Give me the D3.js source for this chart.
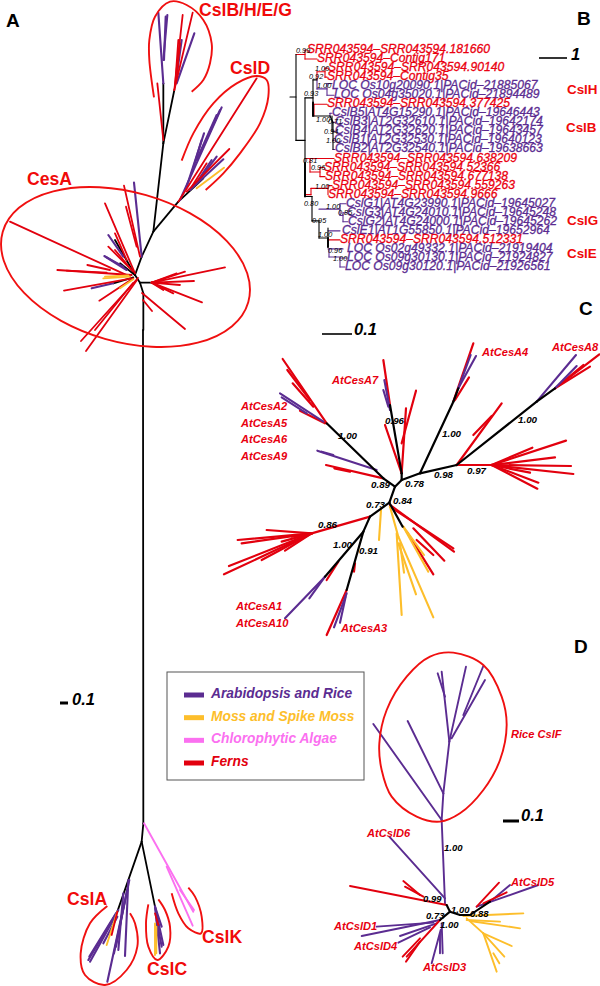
<!DOCTYPE html>
<html><head><meta charset="utf-8">
<script src="https://d3js.org/d3.v7.min.js"></script>
<style>html,body{margin:0;padding:0;background:#fff}svg{display:block}text{font-family:"Liberation Sans",Arial,sans-serif}</style>
</head><body><div id="chart"></div>
<script>
// ---------- colours by taxon ----------
const taxa = ["Arabidopsis and Rice","Moss and Spike Moss","Chlorophytic Algae","Ferns"];
const taxonColours = ["#5b2c91","#fdbe2b","#fb70f0","#e2000e"];
const BLACK = "#000";

// ---------- Panel A, upper part: [x0,y0,x1,y1] in tree units ----------
const aUpperBlack = [[405,825,425,770],[425,770,460,695],[460,695,490,430],[460,695,535,605],[490,430,523,270],[490,430,490,250],[405,825,420,848],[420,848,455,848],[420,848,430,880],[430,880,430,990],[405,825,345,720],[405,825,360,790],[400,832,340,850],[535,605,610,535]];
const aUpperPlants = [[475,38,490,250],[502,45,490,180],[497,50,492,180],[583,100,530,250],[545,120,527,250],[665,322,540,600],[660,330,600,460],[650,345,590,480],[612,400,560,560],[605,420,575,520],[670,478,570,570],[650,470,590,550],[635,480,585,555],[402,548,425,770],[325,705,370,770],[313,768,380,810],[320,772,370,800],[275,865,340,850]];
const aUpperFerns = [[548,45,523,270],[578,38,523,270],[535,120,525,260],[540,130,530,230],[472,250,490,420],[770,235,535,605],[688,447,560,575],[620,490,575,560],[372,557,420,770],[378,620,410,740],[315,610,405,820],[345,700,380,780],[325,740,400,815],[345,750,395,810],[30,665,390,830],[172,810,395,825],[262,795,330,810],[200,812,320,818],[192,872,395,835],[298,902,400,835],[243,1023,414,834],[258,1053,411,840],[285,990,399,849],[455,848,675,802],[455,848,582,843],[455,848,606,907],[455,848,540,855],[455,848,555,815],[455,848,530,820],[455,848,490,870],[455,848,520,880],[455,848,490,840],[426,879,555,987],[429,900,456,933]];
const aUpperMoss = [[672,503,590,565],[310,835,390,830],[360,865,400,838],[315,830,385,826]];
// ---------- Panel A, lower part ----------
const aLowerBlack = [[309,-990,310,490],[310,490,305,545],[305,545,232,755],[305,545,345,740]];
const aLowerPlants = [[145,900,232,755],[150,905,225,770],[148,890,228,760],[180,845,235,750],[190,850,232,770],[202,965,268,660],[222,880,262,690],[255,888,265,660],[235,870,250,700],[228,860,255,720],[345,740,370,855],[345,740,365,800],[345,740,360,880],[350,780,365,860]];
const aLowerMoss = [[200,855,232,755],[345,790,345,885],[349,800,349,880]];
const aLowerFerns = [[215,825,232,755],[345,760,355,795]];
const aLowerAlgae = [[312,490,460,755],[380,620,458,797],[420,690,462,750]];

// ---------- Panel C ----------
const cBlack = [[605,510,660,490],[660,490,770,465],[770,465,1010,275],[1010,275,1065,235],[660,490,760,275],[760,275,775,235],[605,510,605,490],[605,490,570,285],[585,530,605,510],[585,530,550,505],[550,505,380,340],[585,530,568,578],[568,578,510,620],[510,620,490,665],[490,665,375,800],[490,665,440,840],[568,578,608,650]];
const cFerns = [[770,465,875,465],[875,465,1098,392],[875,465,997,413],[875,465,1065,442],[875,465,1113,468],[875,465,1120,492],[875,465,990,488],[875,465,1015,518],[875,465,1012,536],[770,465,905,280],[820,375,875,318],[1065,235,1198,133],[1065,235,1170,170],[1090,215,1150,165],[760,275,820,100],[765,270,807,202],[550,150,570,285],[605,490,555,345],[605,490,618,295],[605,400,648,242],[248,147,380,340],[262,180,330,270],[278,220,340,290],[300,302,375,340],[378,465,550,505],[403,475,450,485],[510,620,335,670],[335,670,200,660],[335,670,113,690],[335,670,125,700],[335,670,275,680],[335,670,245,695],[335,670,255,722],[335,670,185,750],[335,670,87,768],[335,670,72,793],[415,755,380,810],[465,760,462,785],[440,840,380,975],[570,590,760,715],[570,585,762,725],[640,655,733,752],[620,665,700,793],[650,690,700,735]];
const cPlants = [[1010,275,1128,135],[1065,235,1130,168],[775,235,828,138],[775,235,812,135],[553,210,570,300],[550,240,565,290],[240,250,370,335],[245,262,320,310],[352,422,530,480],[365,425,400,435],[375,800,255,925],[375,800,328,865],[440,850,402,952],[437,860,420,938]];
const cMoss = [[543,600,537,690],[570,590,595,680],[590,670,605,915],[595,680,700,922],[595,700,648,853],[600,700,612,788],[610,650,672,735],[610,650,685,785]];

// ---------- Panel D ----------
const dPlants = [[375,790,365,540],[365,540,370,460],[370,460,388,305],[365,540,160,252],[370,460,263,243],[388,305,365,95],[375,170,353,100],[388,305,438,80],[395,295,495,120],[430,225,490,78],[375,775,208,590],[510,785,570,735],[470,800,655,735],[360,840,125,888],[340,848,170,860],[350,850,240,888],[330,862,235,908],[365,850,368,940],[362,870,335,970],[360,880,360,940]];
const dFerns = [[380,795,90,738],[300,765,250,723],[310,770,255,740],[470,800,537,728],[490,790,560,757],[360,840,260,950],[300,895,248,950],[300,905,258,965]];
const dBlack = [[380,795,390,815],[390,815,420,825],[420,825,450,825],[450,825,510,785],[390,815,360,840]];
const dMoss = [[430,828,610,820],[440,840,540,845],[450,843,600,865],[440,835,490,880],[490,880,575,918],[490,880,553,950],[490,880,530,995],[520,940,538,970]];

// ---------- Panel B: rectangular tree; tip names by row ----------
const bNames = ["SRR043594–SRR043594.181660","SRR043594–Contig171","SRR043594–SRR043594.90140","SRR043594–Contig35","LOC Os10g20090.1|PACid–21885067","LOC Os04g35020.1|PACid–21894489","SRR043594–SRR043594.377425","CslB5|AT4G15290.1|PACid–19646443","CslB3|AT2G32610.1|PACid–19642174","CslB4|AT2G32620.1|PACid–19643457","CslB1|AT2G32530.1|PACid–19640123","CslB2|AT2G32540.1|PACid–19638663","SRR043594–SRR043594.638209","SRR043594–SRR043594.52366","SRR043594–SRR043594.677138","SRR043594–SRR043594.559263","SRR043594–SRR043594.9666","CslG1|AT4G23990.1|PACid–19645027","CslG3|AT4G24010.1|PACid–19645248","CslG2|AT4G24000.1|PACid–19645262","CslE1|AT1G55850.1|PACid–19652964","SRR043594–SRR043594.512331","LOC Os02g49332.1|PACid–21919404","LOC Os09g30130.1|PACid–21924827","LOC Os09g30120.1|PACid–21926561"];
const bNameDepth = [11,21,32,31,36,38,31,36,39,39,38,39,38,28,29,36,32,50,51,52,46,44,51,51,49];
// edges: [parentDepth, parentRow, childDepth, childRow]
const bBlackEdges = [[-6,5.2,0,5.2],[0,0.5,0,10],[0,10,9,10],[9,5.3,9,16.2],[9,5.3,17,5.3],[17,3.3,17,7.3],[17,3.3,21,3.3],[18,7.3,34,7.3],[9,16.2,16,16.2],[16,16.2,16,18.9],[16,18.9,23,18.9],[23,18.9,23,20.8],[23,20.8,32,20.8],[32,19.7,32,21.8],[34,7.3,37,8],[37,8,37,11],[36,7.3,36,9]];
const bThickEdges = [[9,12.5,9,16.2],[17,5.8,17,7.3],[32,20.8,32,21.8]];
const bFernEdges = [[0,0.5,9,0.5],[9,0,9,1],[9,0,11,0],[9,1,21,1],[21,3.3,21,2.4],[29,2,29,3],[21,2.4,29,2.4],[29,2,32,2],[29,3,31,3],[18,6,31,6],[18,6,18,7.3],[9,12,14,12],[14,12,14,13.5],[14,12,38,12],[14,13.5,24,13.5],[24,13,24,14],[24,13,28,13],[24,14,29,14],[9,16,15,16],[15,15.3,15,16],[15,15.3,32,15.3],[32,15,32,16],[32,15,36,15],[32,21,44,21]];
const bPlantEdges = [[21,4.3,31,4.3],[21,3.3,21,4.3],[31,3.7,31,5],[31,3.7,36,3.7],[31,5,38,5],[34,7,36,7],[34,7,34,7.3],[23,17.6,44,17.6],[44,17,44,18.3],[44,17,50,17],[44,18.3,47,18.3],[47,18,47,19],[47,18,51,18],[47,19,52,19],[32,20,44,20],[32,22,47,22],[33,22,33,22.9],[33,22.9,44,22.9],[44,23,44,24],[44,23,51,23],[44,24,49,24],[37,9,39,9],[37,10,38,10],[37,11,39,11],[37,8,39,8]];
const bSupport = ["0.99","1.00","0.92","1.00","0.93","1.00","0.71","0.94","1.00","0.81","0.96","1.00","0.80","1.00","0.85","0.95","1.00","0.96","1.00"];
const bSupportPos = [[0,53],[19,71],[13,79],[21,88],[8,96],[20,122],[32,124],[28,134],[30,143],[7,163],[15,170],[19,189],[8,206],[30,209],[42,215],[16,223],[22,237],[32,253],[37,261]];

// ---------- Text annotations ----------
const panelLetters = ["A","B","C","D"];
const panelLetterPos = [[6,27],[577,25],[579,315],[574,653]];
const cladeNames = ["CslB/H/E/G","CslD","CesA","CslA","CslC","CslK"];
const cladeNamePos = [[199,16],[230,74],[27,185],[67,905],[147,975],[202,943]];
const sideNames = ["CslH","CslB","CslG","CslE"];
const sideNamePos = [[567,94],[566,132],[567,225],[567,258]];
const geneNames = ["AtCesA4","AtCesA8","AtCesA7","AtCesA2","AtCesA5","AtCesA6","AtCesA9","AtCesA1","AtCesA10","AtCesA3","AtCslD6","AtCslD5","AtCslD1","AtCslD4","AtCslD3","Rice CslF"];
const geneNamePos = [[482,356],[552,351],[332,384],[241,410],[241,427],[241,443],[241,460],[236,610],[236,627],[341,632],[367,837],[511,886],[334,930],[354,950],[423,971],[511,738]];
const supportC = ["1.00","0.96","1.00","1.00","0.89","0.78","0.98","0.97","0.73","0.84","0.86","1.00","0.91"];
const supportCPos = [[338,439],[385,424],[442,437],[518,423],[371,488],[405,487],[434,478],[467,474],[366,508],[393,504],[318,528],[333,548],[359,554]];
const supportD = ["1.00","0.99","1.00","0.88","0.73","1.00"];
const supportDPos = [[444,851],[423,902],[451,913],[470,917],[426,919],[440,928]];
const scaleBars = [[60,703,68,703,"0.1",72,705,3],[539,58,567,58,"1",571,60,1.6],[322,334,352,334,"0.1",354,335,1.6],[503,821,519,821,"0.1",521,821,3]];

// ---------- Red clade outlines (curves through read points) ----------
const outlineCslB = [[462,292],[448,180],[448,120],[465,50],[510,5],[560,15],[610,60],[635,130],[630,190],[610,240],[575,275]];
const outlineCslD = [[545,482],[580,400],[640,310],[710,250],[770,228],[800,240],[805,290],[780,370],[720,460],[670,520],[617,570]];
const outlineCslA = [[202,738],[150,790],[122,880],[135,945],[195,975],[260,930],[292,860],[285,790],[270,760]];
const outlineCslC = [[325,733],[318,790],[325,860],[352,900],[385,860],[390,800],[375,750],[355,718]];
const outlineCslK = [[395,700],[415,760],[445,805],[483,820],[485,770],[465,710],[445,683]];
const outlineCslF = [[400,38],[490,75],[545,170],[560,255],[540,360],[490,450],[420,520],[360,545],[290,530],[215,470],[185,390],[178,310],[200,210],[260,110],[330,50]];
const ellipseCesA = [125.5,267,127.7,74.7,16];

// ---------- Scales ----------
const W = 600, H = 986;
const aUx = d3.scaleLinear().domain([0,870]).range([0,290]), aUy = d3.scaleLinear().domain([0,990]).range([0,330]);
const aLx = d3.scaleLinear().domain([0,900]).range([40,340]), aLy = d3.scaleLinear().domain([0,978]).range([660,986]);
const cx = d3.scaleLinear().domain([0,1200]).range([200,600]), cy = d3.scaleLinear().domain([0,1020]).range([310,650]);
const dx = d3.scaleLinear().domain([0,840]).range([320,600]), dy = d3.scaleLinear().domain([0,1038]).range([640,986]);
const bx = d3.scaleLinear().domain([0,100]).range([296,396]);
const by = d3.scaleLinear().domain([0,24]).range([50,267]);

const svg = d3.select("#chart").append("svg").attr("width",W).attr("height",H).attr("viewBox",[0,0,W,H]);

function segs(data,x,y,colour,width){
  svg.append("g").attr("stroke",colour).attr("stroke-width",width).attr("stroke-linecap","round")
    .selectAll("line").data(data).join("line")
    .attr("x1",d=>x(d[0])).attr("y1",d=>y(d[1])).attr("x2",d=>x(d[2])).attr("y2",d=>y(d[3]));
}
function curve(pts,x,y,closed){
  const gen = d3.line().x(d=>x(d[0])).y(d=>y(d[1])).curve(closed?d3.curveCatmullRomClosed:d3.curveCatmullRom);
  svg.append("path").attr("d",gen(pts)).attr("fill","none").attr("stroke","#f01010").attr("stroke-width",1.9);
}
function labels(names,pos,fill,size,weight,style){
  svg.append("g").attr("fill",fill).attr("font-size",size).attr("font-weight",weight).attr("font-style",style)
    .selectAll("text").data(names).join("text").attr("x",(d,i)=>pos[i][0]).attr("y",(d,i)=>pos[i][1]).text(d=>d);
}
const [PURPLE,YELLOW,PINK,RED] = taxonColours;

// Panel A
segs(aUpperBlack,aUx,aUy,BLACK,1.8);
segs(aLowerBlack,aLx,aLy,BLACK,1.8);
segs(aUpperPlants,aUx,aUy,PURPLE,2.1);
segs(aUpperFerns,aUx,aUy,RED,1.8);
segs(aUpperMoss,aUx,aUy,YELLOW,1.9);
segs(aLowerPlants,aLx,aLy,PURPLE,2.1);
segs(aLowerMoss,aLx,aLy,YELLOW,1.9);
segs(aLowerFerns,aLx,aLy,RED,1.8);
segs(aLowerAlgae,aLx,aLy,PINK,1.9);
curve(outlineCslB,aUx,aUy,false);
curve(outlineCslD,aUx,aUy,false);
curve(outlineCslA,aLx,aLy,false);
curve(outlineCslC,aLx,aLy,false);
curve(outlineCslK,aLx,aLy,false);
svg.append("ellipse").attr("cx",ellipseCesA[0]).attr("cy",ellipseCesA[1]).attr("rx",ellipseCesA[2]).attr("ry",ellipseCesA[3])
  .attr("transform",`rotate(${ellipseCesA[4]} ${ellipseCesA[0]} ${ellipseCesA[1]})`)
  .attr("fill","none").attr("stroke","#f01010").attr("stroke-width",1.9);

// Panel C
segs(cFerns,cx,cy,RED,2.2);
segs(cPlants,cx,cy,PURPLE,2.1);
segs(cMoss,cx,cy,YELLOW,2.1);
segs(cBlack,cx,cy,BLACK,2.2);

// Panel D
segs(dPlants,dx,dy,PURPLE,1.9);
segs(dFerns,dx,dy,RED,1.9);
segs(dMoss,dx,dy,YELLOW,1.9);
segs(dBlack,dx,dy,BLACK,2.1);
curve(outlineCslF,dx,dy,true);

// Panel B
segs(bFernEdges,bx,by,RED,1.1);
segs(bPlantEdges,bx,by,PURPLE,1.1);
segs(bBlackEdges,bx,by,BLACK,1.1);
segs(bThickEdges,bx,by,BLACK,1.9);
const bIsFern = n => n.startsWith("SRR");
const bColour = d => bIsFern(d)?"#ea0010":PURPLE;
svg.append("g").attr("font-size",12.15).attr("font-style","italic").attr("stroke-width",0.3).selectAll("text").data(bNames).join("text")
  .attr("x",(d,i)=>bx(bNameDepth[i])).attr("y",(d,i)=>by(i)+3).attr("fill",bColour).attr("stroke",bColour).text(d=>d);
labels(bSupport,bSupportPos.map(p=>[bx(p[0]),p[1]]),"#000",7.3,"normal","italic");

// Legend
const legendTop = d3.scalePoint().domain(taxa).range([695,763]);
const legend = svg.append("g");
legend.append("rect").attr("x",167).attr("y",672).attr("width",197).attr("height",108).attr("fill","none").attr("stroke","#555").attr("stroke-width",1);
legend.selectAll("line").data(taxa).join("line").attr("x1",184).attr("x2",204).attr("y1",d=>legendTop(d)).attr("y2",d=>legendTop(d))
  .attr("stroke",(d,i)=>taxonColours[i]).attr("stroke-width",5);
legend.selectAll("text").data(taxa).join("text").attr("x",211).attr("y",d=>legendTop(d)+3)
  .attr("fill",(d,i)=>taxonColours[i]).attr("font-size",13.8).attr("font-weight","bold").attr("font-style","italic").text(d=>d);

// Text
labels(panelLetters,panelLetterPos,"#000",19,"bold","normal");
labels(cladeNames,cladeNamePos,"#f00a0a",17.6,"bold","normal");
labels(sideNames,sideNamePos,"#f00a0a",13.4,"bold","normal");
labels(geneNames,geneNamePos,"#e8000f",11.1,"bold","italic");
labels(supportC,supportCPos,"#000",9.8,"bold","italic");
labels(supportD,supportDPos,"#000",9.5,"bold","italic");

// Scale bars
const sb = svg.append("g");
sb.selectAll("line").data(scaleBars).join("line").attr("x1",d=>d[0]).attr("y1",d=>d[1]).attr("x2",d=>d[2]).attr("y2",d=>d[3])
  .attr("stroke","#000").attr("stroke-width",d=>d[7]);
sb.selectAll("text").data(scaleBars).join("text").attr("x",d=>d[5]).attr("y",d=>d[6]).attr("font-size",16.5).attr("font-weight","bold").attr("font-style","italic").text(d=>d[4]);
</script></body></html>
